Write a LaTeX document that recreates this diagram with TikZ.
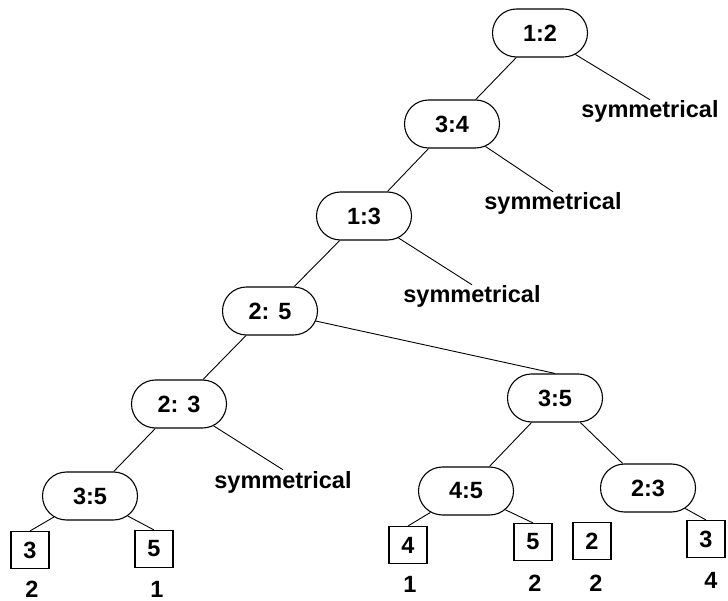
\documentclass[tikz,border=0pt]{standalone}
\usepackage{fontspec}
\setmainfont{Liberation Sans}
\usetikzlibrary{shapes.misc}
\begin{document}
\begin{tikzpicture}[x=1pt,y=-1pt,font=\fontsize{23.5}{28}\selectfont\bfseries,
  cmp/.style={draw,line width=1.1pt,rounded rectangle,minimum width=95pt,minimum height=48pt,inner sep=0pt},
  leaf/.style={draw,line width=1.1pt,minimum width=38pt,minimum height=37pt,inner sep=0pt},
  sym/.style={inner sep=1pt,anchor=base},
  num/.style={inner sep=0pt,anchor=base},
  edge/.style={line width=0.9pt}]
\useasboundingbox (0,0) rectangle (728,601);
% comparison nodes
\node[cmp] (n12) at (540,33) {1:2};
\node[cmp] (n34) at (452,124) {3:4};
\node[cmp] (n13) at (364,216) {1:3};
\node[cmp] (n25) at (270,311) {2: 5};
\node[cmp] (n23a) at (179,404) {2: 3};
\node[cmp] (n35a) at (90,496) {3:5};
\node[cmp] (n35b) at (555,398) {3:5};
\node[cmp] (n45) at (466,491) {4:5};
\node[cmp] (n23b) at (648,488) {2:3};
% symmetrical branches
\node[sym] (s1) at (650,118) {symmetrical};
\node[sym] (s2) at (553,210) {symmetrical};
\node[sym] (s3) at (472,303) {symmetrical};
\node[sym] (s4) at (283,488) {symmetrical};
% leaves
\node[leaf] (b3a) at (30,550) {3};
\node[leaf] (b5a) at (154,549) {5};
\node[leaf] (b4) at (408,545) {4};
\node[leaf] (b5b) at (533,542) {5};
\node[leaf] (b2) at (592,541) {2};
\node[leaf] (b3b) at (706,539) {3};
% numbers under the leaves
\node[num] (l1) at (32,597) {2};
\node[num] (l2) at (157,597) {1};
\node[num] (l3) at (410,592) {1};
\node[num] (l4) at (535,591) {2};
\node[num] (l5) at (596,591) {2};
\node[num] (l6) at (711,588) {4};
% edges
\draw[edge] (n12) -- (n34);
\draw[edge] (n12) -- (s1.north);
\draw[edge] (n34) -- (n13);
\draw[edge] (n34) -- (s2.north);
\draw[edge] (n13) -- (n25);
\draw[edge] (n13) -- (s3.north);
\draw[edge] (n25) -- (n23a);
\draw[edge] (n25) -- (n35b.north);
\draw[edge] (n23a) -- (n35a);
\draw[edge] (n23a) -- (s4.north);
\draw[edge] (n35a) -- (b3a.north);
\draw[edge] (n35a) -- (b5a.north);
\draw[edge] (n35b) -- (n45);
\draw[edge] (n35b) -- (n23b);
\draw[edge] (n45) -- (b4.north);
\draw[edge] (n45) -- (b5b.north);
\draw[edge] (n23b) -- (b3b.north);
\end{tikzpicture}
\end{document}
